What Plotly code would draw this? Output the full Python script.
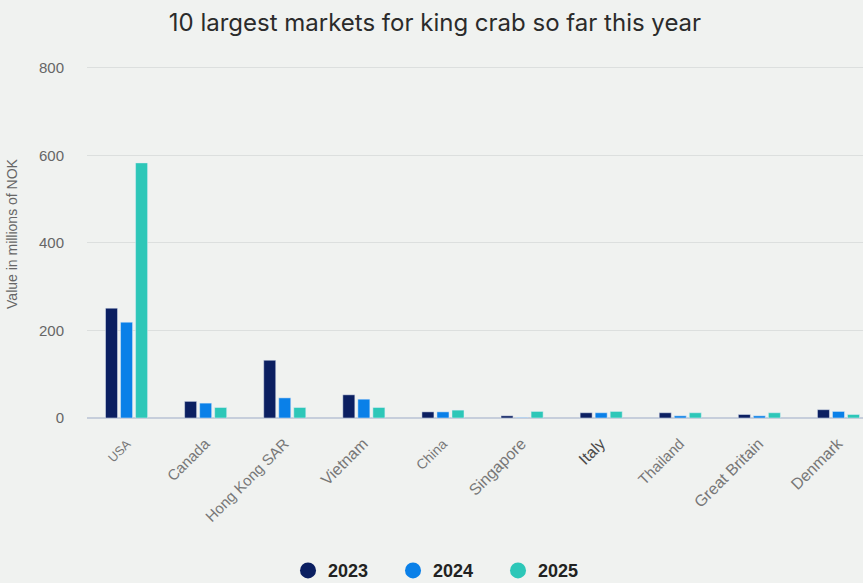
import plotly.graph_objects as go

countries = ["USA", "Canada", "Hong Kong SAR", "Vietnam", "China", "Singapore",
             "Italy", "Thailand", "Great Britain", "Denmark"]
v2023 = [251, 38, 132, 53, 14, 5, 12, 12, 8, 19]
v2024 = [219, 34, 46, 43, 14, 1, 12, 5, 5, 15]
v2025 = [583, 24, 24, 24, 18, 15, 15, 12, 12, 8]
years = ["2023", "2024", "2025"]
colors = ["#0b1f61", "#0a80e8", "#2dc7b8"]

# per-label styling (the reference renders labels at slightly different sizes)
label_sizes = [12.5, 15, 15, 16, 14, 16, 16, 15, 16, 16]
label_colors = ["#777", "#777", "#777", "#777", "#777", "#777", "#4a4a4a", "#777", "#777", "#777"]
ticktext = [f'<span style="font-size:{s}px;color:{c}">{t}</span>'
            for t, s, c in zip(countries, label_sizes, label_colors)]

fig = go.Figure()
for yr, vals, c in zip(years, [v2023, v2024, v2025], colors):
    fig.add_trace(go.Bar(x=countries, y=vals, name=yr, marker_color=c,
                         showlegend=False, hovertemplate="%{x}: %{y}<extra>" + yr + "</extra>"))
for yr, c in zip(years, colors):
    fig.add_trace(go.Scatter(x=[None], y=[None], mode="markers", name=yr,
                             marker=dict(color=c, size=22, symbol="circle")))

fig.update_layout(
    width=863, height=583,
    paper_bgcolor="#f0f2f0", plot_bgcolor="#f0f2f0",
    margin=dict(l=87, r=0, t=50, b=165, autoexpand=False),
    barmode="group", bargap=0.43, bargroupgap=0.2,
    title=dict(text="10 largest markets for king crab so far this year",
               x=0.504, xanchor="center", y=0.962, yanchor="middle",
               font=dict(family="Inter, Roboto, sans-serif", size=24, color="#2b2b2b")),
    font=dict(family="Liberation Sans, Arial, sans-serif", color="#666"),
    xaxis=dict(range=[-0.5, 9.31], tickangle=-45, showgrid=False, ticks="",
               tickmode="array", tickvals=countries, ticktext=ticktext, automargin=False,
               ticklabelstandoff=14,
               tickfont=dict(size=14, color="#777"), showline=False, zeroline=False),
    yaxis=dict(range=[0, 841], tickvals=[0, 200, 400, 600, 800], showgrid=True,
               gridcolor="#dcdfde", gridwidth=1, zeroline=True, zerolinecolor="#c6cedb",
               zerolinewidth=1.5, tickfont=dict(size=15, color="#666"), ticklabelstandoff=22,
               automargin=False,
               title=dict(text="Value in millions of NOK", font=dict(size=14, color="#666"),
                          standoff=18)),
    legend=dict(orientation="h", x=0.462, xanchor="center", y=-0.415, yanchor="middle",
                font=dict(family="Liberation Sans Narrow, Arial Narrow, Liberation Sans, sans-serif",
                          size=18, color="#222", weight="bold"),
                itemsizing="trace", itemwidth=30, entrywidth=60, entrywidthmode="pixels",
                bgcolor="rgba(0,0,0,0)"),
)

fig.write_html("out.html", config={"displayModeBar": False})
with open("out.html", "r", encoding="utf-8") as f:
    html = f.read()
html = html.replace("<body>", '<body style="margin:0;padding:0;overflow:hidden">', 1)
with open("out.html", "w", encoding="utf-8") as f:
    f.write(html)
